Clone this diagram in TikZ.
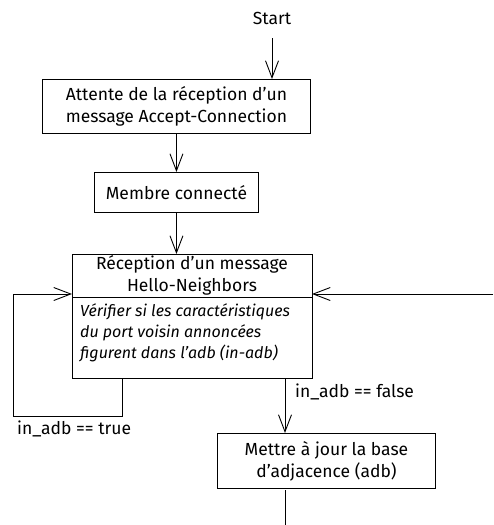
\documentclass[tikz,border=0pt]{standalone}
\usepackage{fontspec}
\setmainfont{Fira Sans}
\usetikzlibrary{arrows.meta}
\begin{document}
\begin{tikzpicture}[x=1pt,y=-1pt,
  box/.style={draw,line width=0.9pt,inner sep=0pt,anchor=north west},
  txt/.style={font=\fontsize{17.5}{22}\selectfont,align=center},
  lbl/.style={font=\fontsize{17.5}{22}\selectfont,inner sep=0pt},
  conn/.style={line width=0.9pt},
  arr/.style={conn,-{Straight Barb[length=17pt,width=13pt,line width=0.9pt]}}]
\useasboundingbox (0,0) rectangle (493,525);
\node[lbl] (start) at (272,18) {Start};
\node[box,minimum width=268pt,minimum height=54pt] (b1) at (42,79) {};
\node[txt] at (b1.center) {Attente de la réception d’un\\message Accept-Connection};
\node[box,minimum width=164pt,minimum height=40pt] (b2) at (94,172) {};
\node[txt] at (b2.center) {Membre connecté};
\node[box,minimum width=240pt,minimum height=124pt] (b3) at (72,254) {};
\node[txt] (b3t) at (192,275) {Réception d’un message\\Hello-Neighbors};
\draw[conn] (72,297) -- (312,297);
\node[txt,align=left,anchor=north west,font=\fontsize{16}{21}\selectfont\itshape,inner sep=0pt] (b3b) at (80,303) {Vérifier si les caractéristiques\\du port voisin annoncées\\figurent dans l’adb (in-adb)};
\node[box,minimum width=218pt,minimum height=55pt] (b4) at (217,433) {};
\node[txt] at (b4.center) {Mettre à jour la base\\d’adjacence (adb)};
\coordinate (s0) at (272,38);
\draw[arr] (s0) -- (b1.north -| s0);
\draw[arr] (b1.south) -- (b2.north);
\draw[arr] (b2.south) -- (b3.north -| b2.south);
\coordinate (l1) at (122,378);
\coordinate (l2) at (122,416);
\coordinate (l3) at (13,416);
\coordinate (l4) at (13,294);
\coordinate (l5) at (72,294);
\draw[arr] (l1) -- (l2) -- (l3) -- (l4) -- (l5);
\coordinate (r0) at (493,294);
\coordinate (r1) at (312,294);
\draw[arr] (r0) -- (r1);
\coordinate (f0) at (285,378);
\coordinate (f1) at (285,433);
\draw[arr] (f0) -- (f1);
\coordinate (e0) at (285,490);
\coordinate (e1) at (285,525);
\draw[conn] (e0) -- (e1);
\node[lbl,anchor=west] (lf) at (295,392) {in\_adb == false};
\node[lbl,anchor=west] (lt) at (17,429) {in\_adb == true};
\end{tikzpicture}
\end{document}
